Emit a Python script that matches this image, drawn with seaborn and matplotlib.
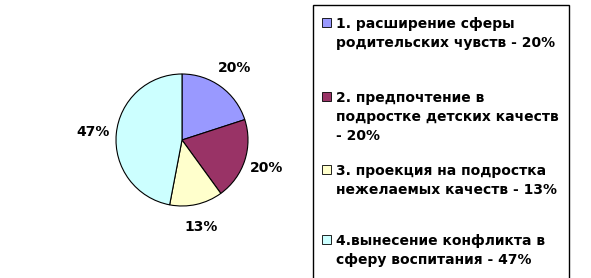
import matplotlib
matplotlib.use("Agg")
import matplotlib.pyplot as plt
from matplotlib.patches import Rectangle
import seaborn as sns

categories = [
    "1. расширение сферы\nродительских чувств - 20%",
    "2. предпочтение в\nподростке детских качеств\n- 20%",
    "3. проекция на подростка\nнежелаемых качеств - 13%",
    "4.вынесение конфликта в\nсферу воспитания - 47%",
]
values = [20, 20, 13, 47]
colors = ["#9999FF", "#993366", "#FFFFCC", "#CCFFFF"]

sns.set_theme(style="white")
plt.rcParams["font.family"] = ["DejaVu Sans"]
plt.rcParams["text.color"] = "black"

W, H = 591, 278
fig = plt.figure(figsize=(W / 100, H / 100), dpi=100)
fig.patch.set_facecolor("white")

def fx(x):
    return x / W

def fy(y):
    return 1 - y / H

# pie axes: centre (182,140), radius 66 px
cx, cy, r = 182, 140, 66
ax = fig.add_axes([fx(cx - r), fy(cy + r), 2 * r / W, 2 * r / H])
wedges, texts, autotexts = ax.pie(
    values,
    colors=colors,
    startangle=90,
    counterclock=False,
    autopct="%d%%",
    pctdistance=1.35,
    wedgeprops=dict(edgecolor="black", linewidth=0.8),
    textprops=dict(fontsize=10, fontweight="bold", color="black"),
)
ax.set_xlim(-1, 1)
ax.set_ylim(-1, 1)
ax.set_aspect("equal")
ax.axis("off")

# legend box
box = Rectangle((fx(313), fy(285)), fx(569) - fx(313), fy(5) - fy(285),
                transform=fig.transFigure, facecolor="white",
                edgecolor="black", linewidth=1.0, zorder=1)
fig.add_artist(box)

cap_tops = [18, 92, 165, 235]
for lab, col, y in zip(categories, colors, cap_tops):
    sq = Rectangle((fx(322), fy(y + 9)), 9 / W, 9 / H,
                   transform=fig.transFigure, facecolor=col,
                   edgecolor="black", linewidth=0.6, zorder=2)
    fig.add_artist(sq)
    fig.text(fx(336), fy(y - 1), lab, ha="left", va="top", color="black",
             fontsize=10, fontweight="bold", linespacing=1.47, zorder=3)

fig.savefig("out.png", dpi=100, facecolor="white")
